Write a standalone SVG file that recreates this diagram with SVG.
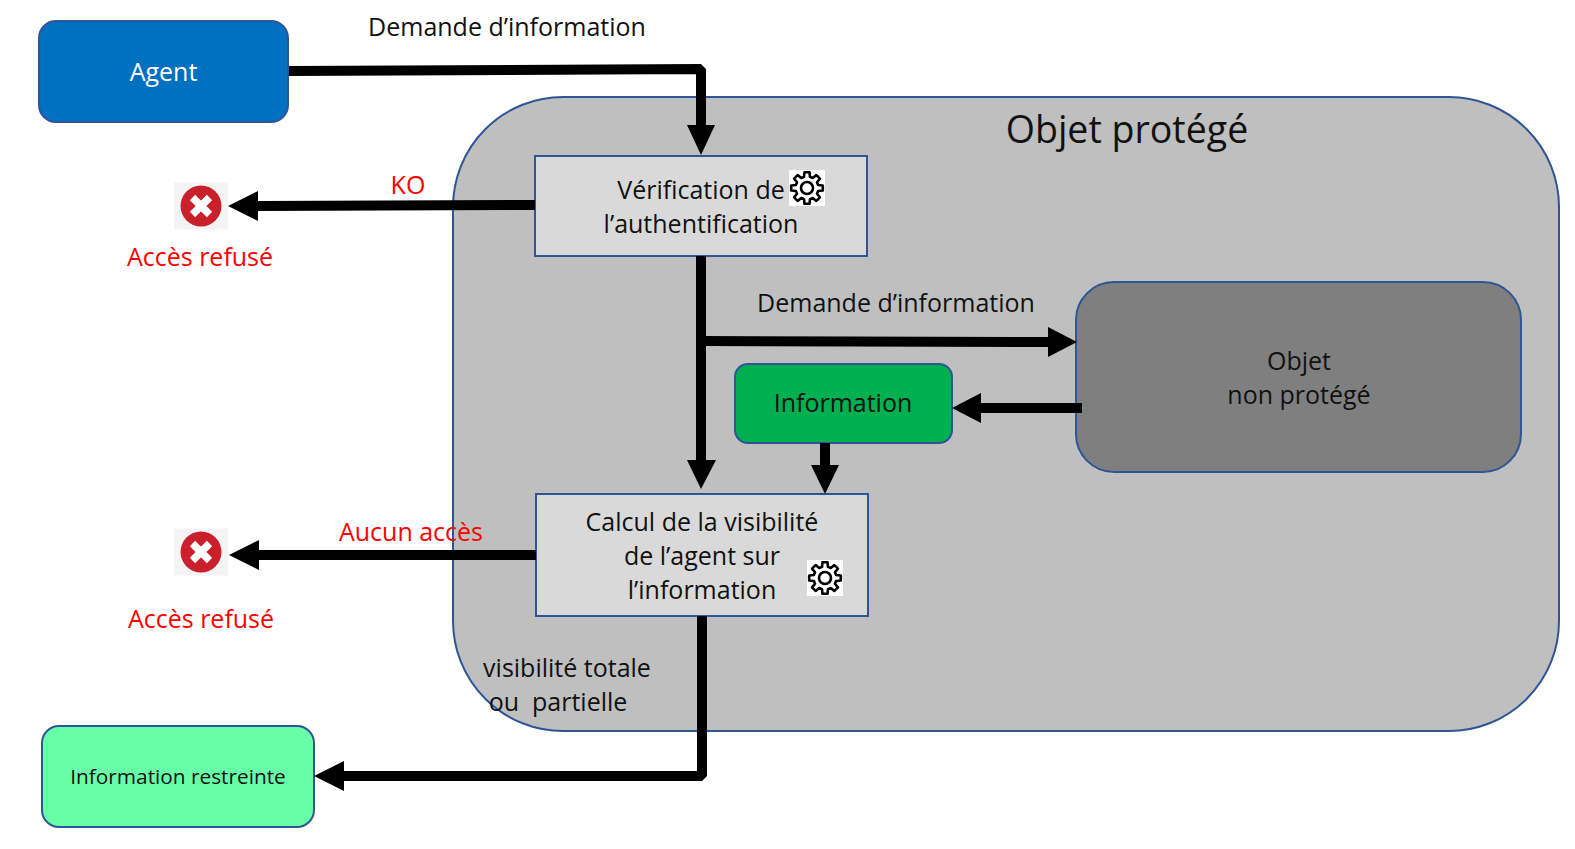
<svg xmlns="http://www.w3.org/2000/svg" width="1575" height="849" viewBox="0 0 1575 849">
<style>
text{font-family:"Open Sans","Noto Sans",sans-serif;font-size:25px;fill:#111;text-anchor:middle}
.r{fill:#f00}
.box{stroke:#2f5597;stroke-width:2}
.c{fill:none;stroke:#000;stroke-width:10;stroke-linejoin:bevel}
.h{fill:#000}
</style>
<defs>
<g id="gear">
<rect x="-18" y="-18" width="36" height="36" fill="#fff"/>
<path d="M-2.980,-11.110 L-2.500,-15.800 L2.500,-15.800 L2.980,-11.110 L5.750,-9.960 L9.400,-12.940 L12.940,-9.400 L9.960,-5.750 L11.110,-2.980 L15.800,-2.500 L15.800,2.500 L11.110,2.980 L9.960,5.750 L12.940,9.400 L9.400,12.940 L5.750,9.960 L2.980,11.110 L2.500,15.800 L-2.500,15.800 L-2.980,11.110 L-5.750,9.960 L-9.400,12.940 L-12.940,9.400 L-9.960,5.750 L-11.110,2.980 L-15.800,2.500 L-15.800,-2.500 L-11.110,-2.980 L-9.960,-5.750 L-12.940,-9.400 L-9.400,-12.940 L-5.750,-9.960 Z" fill="none" stroke="#000" stroke-width="2.600" stroke-linejoin="round"/>
<circle r="6" fill="none" stroke="#000" stroke-width="2.600"/>
</g>
<g id="err">
<rect x="-27" y="-23.500" width="54" height="47" fill="#f4f4f4"/>
<circle r="20.500" fill="#c9202b"/>
<path d="M-8.500,-8.500 L8.500,8.500 M8.500,-8.500 L-8.500,8.500" stroke="#fff" stroke-width="7.500" fill="none"/>
</g>
</defs>
<rect width="1575" height="849" fill="#fff"/>
<g id="objet-protege">
<rect class="box" x="453" y="97" width="1106" height="634" rx="110" fill="#bfbfbf"/>
<text x="1127" y="143" style="font-size:37.500px">Objet protégé</text>
</g>
<g id="objet-non-protege">
<rect class="box" x="1076" y="282" width="445" height="190" rx="38" fill="#7f7f7f"/>
<text x="1299" y="370">Objet</text>
<text x="1299" y="404">non protégé</text>
</g>
<g id="agent">
<rect class="box" x="39" y="21" width="249" height="101" rx="17" fill="#0070c0"/>
<text x="163.500" y="81" style="fill:#fff">Agent</text>
</g>
<g id="verification">
<rect class="box" x="535" y="156" width="332" height="100" fill="#d9d9d9"/>
<text x="701" y="199">Vérification de</text>
<text x="701" y="233">l’authentification</text>
<use href="#gear" x="807" y="188"/>
</g>
<g id="information">
<rect class="box" x="735" y="364" width="217" height="79" rx="13" fill="#00b050"/>
<text x="843" y="412">Information</text>
</g>
<g id="calcul">
<rect class="box" x="536" y="494" width="332" height="122" fill="#d9d9d9"/>
<text x="702" y="531">Calcul de la visibilité</text>
<text x="702" y="565">de l’agent sur</text>
<text x="702" y="599">l’information</text>
<use href="#gear" x="825" y="578"/>
</g>
<g id="information-restreinte">
<rect class="box" x="42" y="726" width="272" height="101" rx="17" fill="#66ffa8"/>
<text x="178" y="784" style="font-size:20.800px">Information restreinte</text>
</g>
<g id="refus-1">
<use href="#err" x="201" y="206"/>
<text class="r" x="200" y="266">Accès refusé</text>
</g>
<g id="refus-2">
<use href="#err" x="201" y="552"/>
<text class="r" x="201" y="628">Accès refusé</text>
</g>
<g id="connectors">
<path class="c" d="M289,71 L701,69 L701,126"/>
<path class="h" d="M687,125 L715,125 L701,155 Z"/>
<path class="c" d="M535,205 L258,206"/>
<path class="h" d="M258,191 L258,221 L228,206 Z"/>
<path class="c" d="M701,256 L701,462"/>
<path class="h" d="M687,460 L716,460 L701,489 Z"/>
<path class="c" d="M701,341 L1050,342"/>
<path class="h" d="M1048,327 L1048,357 L1077,342 Z"/>
<path class="c" d="M1082,408 L978,408"/>
<path class="h" d="M981,393 L981,423 L952,408 Z"/>
<path class="c" d="M825,443 L825,468"/>
<path class="h" d="M811,465 L839,465 L825,494 Z"/>
<path class="c" d="M536,555 L258,555"/>
<path class="h" d="M259,540 L259,570 L229,555 Z"/>
<path class="c" d="M702,616 L702,776 L342,776"/>
<path class="h" d="M344,761 L344,791 L314,776 Z"/>
</g>
<g id="labels">
<text x="507" y="36">Demande d’information</text>
<text x="896" y="312">Demande d’information</text>
<text class="r" x="408" y="194">KO</text>
<text class="r" x="411" y="541">Aucun accès</text>
<text x="567" y="677">visibilité totale</text>
<text x="558" y="711" xml:space="preserve">ou  partielle</text>
</g>
</svg>
